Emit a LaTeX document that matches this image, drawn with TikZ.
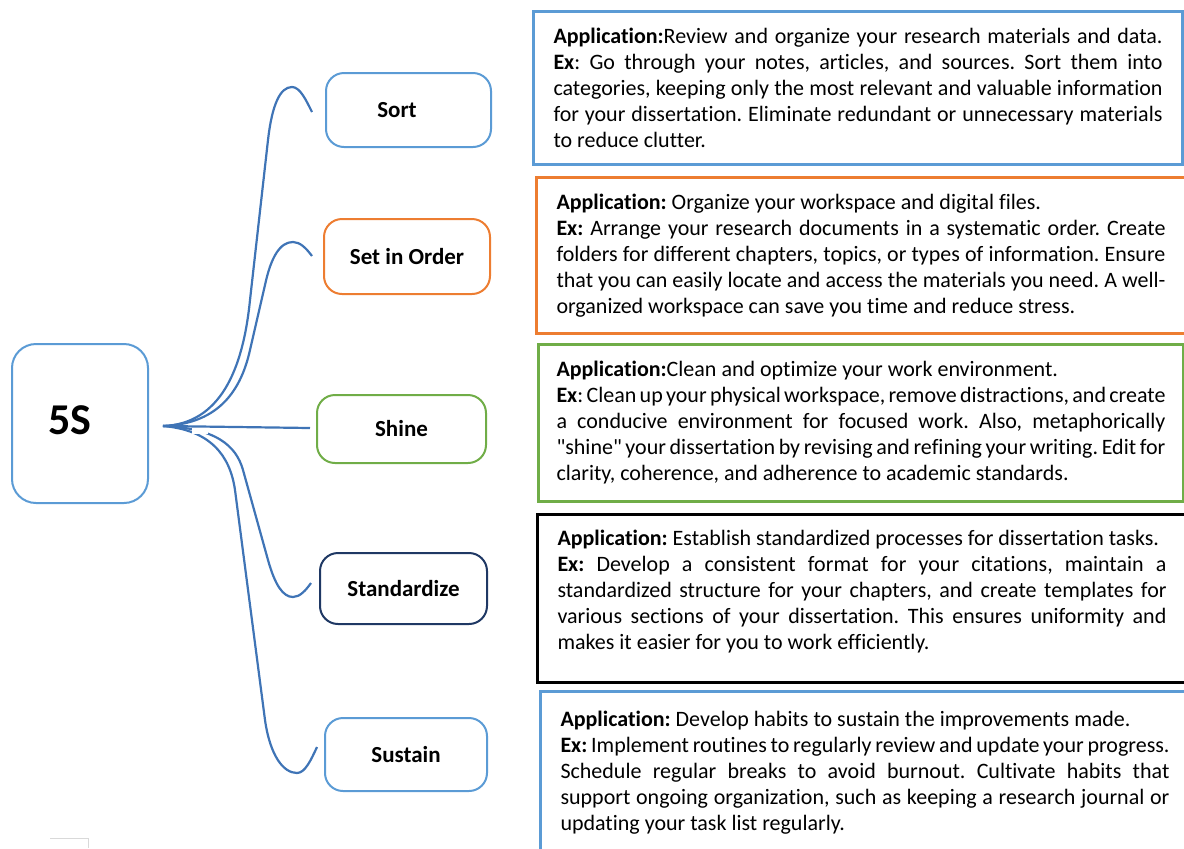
\documentclass[tikz,border=0pt]{standalone}
\usepackage{fontspec}
\setmainfont{Carlito}[Ligatures={NoCommon}]
\usepackage{tikz}
\usetikzlibrary{positioning}
\usetikzlibrary{calc}
\definecolor{frameblue}{HTML}{5B9BD5}
\definecolor{frameorange}{HTML}{ED7D31}
\definecolor{framegreen}{HTML}{70AD47}
\definecolor{framenavy}{HTML}{1F3864}
\definecolor{linkblue}{HTML}{3F74B6}
\tikzstyle{root} = [draw=frameblue, line width=1pt, rounded corners=12pt, minimum width=68pt, minimum height=79.5pt]
\tikzstyle{stage} = [draw, line width=1pt, rounded corners=9pt, font=\fontsize{11.5}{14}\selectfont\bfseries]
\tikzstyle{appbox} = [draw, line width=1.5pt, anchor=north west, text width=304.5pt, inner xsep=10pt, align=justify, font=\fontsize{11}{13}\selectfont]
\tikzstyle{link} = [draw=linkblue, line width=1.1pt]
\tikzstyle{coord} = [coordinate]
\hyphenpenalty=10000
\frenchspacing

\begin{document}
\begin{tikzpicture}[x=0.5pt,y=0.5pt]
    \useasboundingbox (0,0) rectangle (1184,-848);

    \node [root] (root) at (80,-423.5) {};
    \node [font=\fontsize{22}{26}\selectfont\bfseries] (rootname) at (70,-420) {5S};

    \node [stage, draw=frameblue, minimum width=82.5pt, minimum height=37pt] (sort) at (408.5,-110) {Sort\hspace*{11.5pt}};
    \node [stage, draw=frameorange, minimum width=83pt, minimum height=37.5pt] (setorder) at (407,-256.5) {Set in Order};
    \node [stage, draw=framegreen, minimum width=84.5pt, minimum height=34pt] (shine) at (401.5,-429) {Shine};
    \node [stage, draw=framenavy, minimum width=83.5pt, minimum height=35.5pt] (standardize) at (403.5,-588.5) {Standardize};
    \node [stage, draw=frameblue, minimum width=81pt, minimum height=36.5pt] (sustain) at (406,-754.5) {Sustain};

    \node [appbox, draw=frameblue, minimum height=76.5pt] (app1) at (532,-10) {\textbf{Application:}Review and organize your research materials and data.\linebreak \textbf{Ex}: Go through your notes, articles, and sources. Sort them into\linebreak categories, keeping only the most relevant and valuable information\linebreak for your dissertation. Eliminate redundant or unnecessary materials\linebreak to reduce clutter.};
    \node [appbox, draw=frameorange, minimum height=78pt] (app2) at (535,-176) {\textbf{Application:} Organize your workspace and digital files.\\ \textbf{Ex:} Arrange your research documents in a systematic order. Create\linebreak folders for different chapters, topics, or types of information. Ensure\linebreak that you can easily locate and access the materials you need. A well-\linebreak organized workspace can save you time and reduce stress.};
    \node [appbox, draw=framegreen, inner xsep=9pt, minimum height=78.5pt] (app3) at (537,-343) {\textbf{Application:}Clean and optimize your work environment.\\ \textbf{Ex}: Clean up your physical workspace, remove distractions, and create\linebreak a conducive environment for focused work. Also, metaphorically\linebreak \textquotedbl shine\textquotedbl{} your dissertation by revising and refining your writing. Edit for\linebreak clarity, coherence, and adherence to academic standards.};
    \node [appbox, draw=black, minimum height=84pt] (app4) at (536,-513) {\textbf{Application:} Establish standardized processes for dissertation tasks.\\ \textbf{Ex:} Develop a consistent format for your citations, maintain a\linebreak standardized structure for your chapters, and create templates for\linebreak various sections of your dissertation. This ensures uniformity and\linebreak makes it easier for you to work efficiently.\par\nointerlineskip\rule{0pt}{7pt}};
    \node [appbox, draw=frameblue, minimum height=81pt] (app5) at (539,-690) {\textbf{Application:} Develop habits to sustain the improvements made.\\ \textbf{Ex:} Implement routines to regularly review and update your progress.\linebreak Schedule regular breaks to avoid burnout. Cultivate habits that\linebreak support ongoing organization, such as keeping a research journal or\linebreak updating your task list regularly.};

    \node [coord] (hub) at (163,-426) {};
    \node [coord] (sortend) at (312,-112) {};
    \node [coord] (setorderend) at (312,-256) {};
    \node [coord] (shineend) at (310,-428) {};
    \node [coord] (standardizeend) at (311,-583) {};
    \node [coord] (sustainend) at (317,-747) {};

    \draw [link] (hub) .. controls (220,-424) and (243,-370) .. (250,-300) -- (268,-140) .. controls (272,-105) and (280,-87) .. (292,-87) .. controls (300,-87) and (306,-100) .. (sortend); % connections
    \draw [link] (hub) .. controls (215,-424) and (240,-395) .. (250,-350) -- (265,-285) .. controls (271,-257) and (280,-242) .. (293,-242) .. controls (300,-242) and (306,-248) .. (setorderend);
    \draw [link] (hub) .. controls (215,-428) and (236,-445) .. (243,-470) -- (268,-560) .. controls (275,-585) and (283,-597) .. (293,-597) .. controls (300,-597) and (306,-590) .. (standardizeend);
    \draw [link] (hub) .. controls (210,-430) and (230,-455) .. (235,-490) -- (265,-720) .. controls (270,-755) and (283,-773) .. (297,-773) .. controls (305,-773) and (311,-760) .. (sustainend);
    \fill [white] (192,-427) rectangle (208,-434);
    \draw [link] (hub) -- (shineend);

    \draw [gray!30, line width=0.5pt] (50,-838) -- (88,-838) -- (88,-848);
\end{tikzpicture}
\end{document}
